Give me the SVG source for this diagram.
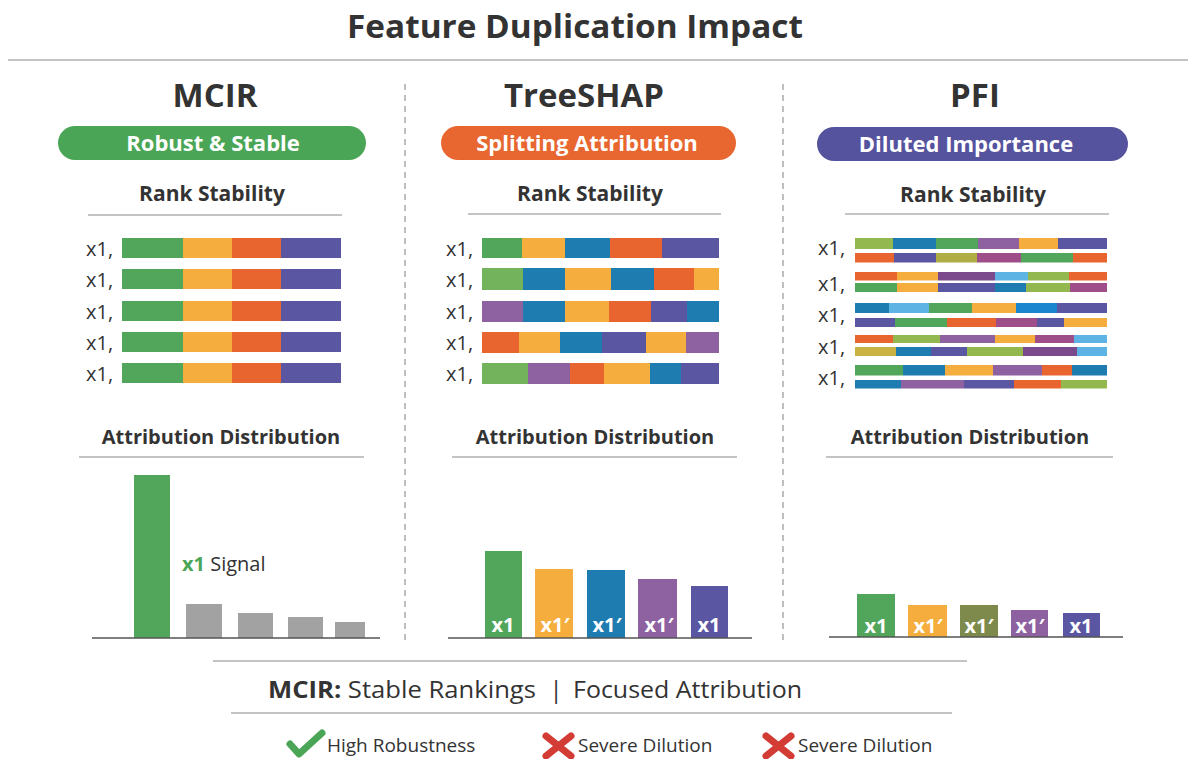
<svg xmlns="http://www.w3.org/2000/svg" width="1188" height="759" viewBox="0 0 1188 759">
<style>
text{font-family:"Open Sans","Liberation Sans",sans-serif;fill:#333}
.title{font-size:32px;font-weight:700}
.col{font-size:33px;font-weight:700}
.pill{font-size:22px;font-weight:700;fill:#fff}
.sub{font-size:21px;font-weight:700}
.sub2{font-size:20px;font-weight:700}
.lbl{font-size:20px}
.bl{font-size:20px;font-weight:700;fill:#fff;text-anchor:middle}
.rule{stroke:#c4c4c4;stroke-width:2}
.axis{stroke:#555;stroke-width:1.5}
.div{stroke:#aaa;stroke-width:1.5;stroke-dasharray:6 5}
.G{fill:#52a65b}.O{fill:#f5ae3d}.R{fill:#e8652f}.I{fill:#5a56a1}.B{fill:#1f7cb0}.V{fill:#8e62a0}.LG{fill:#72b35c}
.YG{fill:#93b84f}.LB{fill:#5cb3e4}.PL{fill:#9e4f8a}.OL{fill:#b0ad44}.DV{fill:#7a4a8c}.MU{fill:#c9b243}.BB{fill:#1a86cf}.GR{fill:#a2a2a2}
.foot{font-size:24px}
.small{font-size:19px}
</style>

<g id="header">
<text class="title" x="575" y="38" text-anchor="middle" textLength="456" lengthAdjust="spacingAndGlyphs">Feature Duplication Impact</text>
<line class="rule" x1="8" y1="60" x2="1188" y2="60" stroke-width="2.5"/>
</g>

<g id="dividers">
<line class="div" x1="405" y1="84" x2="405" y2="640"/>
<line class="div" x1="783" y1="84" x2="783" y2="640"/>
</g>

<g id="mcir">
<text class="col" x="215" y="107" text-anchor="middle">MCIR</text>
<rect x="58" y="126" width="308" height="34" rx="17" fill="#4aa656"/>
<text class="pill" x="213" y="151" text-anchor="middle">Robust &amp; Stable</text>
<text class="sub" x="212" y="201" text-anchor="middle">Rank Stability</text>
<line class="rule" x1="88" y1="215" x2="342" y2="215"/>
<g id="mcir-rows">
<text class="lbl" x="86" y="256">x1,</text>
<text class="lbl" x="86" y="287">x1,</text>
<text class="lbl" x="86" y="319">x1,</text>
<text class="lbl" x="86" y="350">x1,</text>
<text class="lbl" x="86" y="381">x1,</text>
<g id="r1"><rect class="G" x="122" y="238" width="61" height="20"/><rect class="O" x="183" y="238" width="49" height="20"/><rect class="R" x="232" y="238" width="49" height="20"/><rect class="I" x="281" y="238" width="60" height="20"/></g>
<g id="r2"><rect class="G" x="122" y="269" width="61" height="20"/><rect class="O" x="183" y="269" width="49" height="20"/><rect class="R" x="232" y="269" width="49" height="20"/><rect class="I" x="281" y="269" width="60" height="20"/></g>
<g id="r3"><rect class="G" x="122" y="301" width="61" height="20"/><rect class="O" x="183" y="301" width="49" height="20"/><rect class="R" x="232" y="301" width="49" height="20"/><rect class="I" x="281" y="301" width="60" height="20"/></g>
<g id="r4"><rect class="G" x="122" y="332" width="61" height="20"/><rect class="O" x="183" y="332" width="49" height="20"/><rect class="R" x="232" y="332" width="49" height="20"/><rect class="I" x="281" y="332" width="60" height="20"/></g>
<g id="r5"><rect class="G" x="122" y="363" width="61" height="20"/><rect class="O" x="183" y="363" width="49" height="20"/><rect class="R" x="232" y="363" width="49" height="20"/><rect class="I" x="281" y="363" width="60" height="20"/></g>
</g>
<text class="sub2" x="221" y="444" text-anchor="middle">Attribution Distribution</text>
<line class="rule" x1="79" y1="457" x2="364" y2="457"/>
<g id="mcir-chart">
<rect class="G" x="134" y="475" width="36" height="163"/>
<rect class="GR" x="186" y="604" width="36" height="34"/>
<rect class="GR" x="238" y="613" width="35" height="25"/>
<rect class="GR" x="288" y="617" width="35" height="21"/>
<rect class="GR" x="335" y="622" width="30" height="16"/>
<line class="axis" x1="92" y1="638" x2="380" y2="638"/>
<text class="lbl" x="182" y="571"><tspan font-weight="700" fill="#4aa656">x1</tspan> Signal</text>
</g>
</g>

<g id="treeshap">
<text class="col" x="584" y="107" text-anchor="middle">TreeSHAP</text>
<rect x="441" y="126" width="295" height="34" rx="17" fill="#e8662f"/>
<text class="pill" x="587" y="151" text-anchor="middle">Splitting Attribution</text>
<text class="sub" x="590" y="201" text-anchor="middle">Rank Stability</text>
<line class="rule" x1="468" y1="214" x2="721" y2="214"/>
<g id="ts-rows">
<text class="lbl" x="446" y="256">x1,</text>
<text class="lbl" x="446" y="287">x1,</text>
<text class="lbl" x="446" y="319">x1,</text>
<text class="lbl" x="446" y="350">x1,</text>
<text class="lbl" x="446" y="381">x1,</text>
<g id="t1"><rect class="G" x="482" y="238" width="40" height="20"/><rect class="O" x="522" y="238" width="43" height="20"/><rect class="B" x="565" y="238" width="45" height="20"/><rect class="R" x="610" y="238" width="52" height="20"/><rect class="I" x="662" y="238" width="57" height="20"/></g>
<g id="t2"><rect class="LG" x="482" y="268" width="41" height="22"/><rect class="B" x="523" y="268" width="42" height="22"/><rect class="O" x="565" y="268" width="46" height="22"/><rect class="B" x="611" y="268" width="43" height="22"/><rect class="R" x="654" y="268" width="40" height="22"/><rect class="O" x="694" y="268" width="25" height="22"/></g>
<g id="t3"><rect class="V" x="482" y="301" width="41" height="21"/><rect class="B" x="523" y="301" width="42" height="21"/><rect class="O" x="565" y="301" width="44" height="21"/><rect class="R" x="609" y="301" width="42" height="21"/><rect class="I" x="651" y="301" width="36" height="21"/><rect class="B" x="687" y="301" width="32" height="21"/></g>
<g id="t4"><rect class="R" x="482" y="332" width="37" height="21"/><rect class="O" x="519" y="332" width="41" height="21"/><rect class="B" x="560" y="332" width="42" height="21"/><rect class="I" x="602" y="332" width="44" height="21"/><rect class="O" x="646" y="332" width="40" height="21"/><rect class="V" x="686" y="332" width="33" height="21"/></g>
<g id="t5"><rect class="LG" x="482" y="363" width="46" height="21"/><rect class="V" x="528" y="363" width="42" height="21"/><rect class="R" x="570" y="363" width="34" height="21"/><rect class="O" x="604" y="363" width="46" height="21"/><rect class="B" x="650" y="363" width="31" height="21"/><rect class="I" x="681" y="363" width="38" height="21"/></g>
</g>
<text class="sub2" x="595" y="444" text-anchor="middle">Attribution Distribution</text>
<line class="rule" x1="452" y1="457" x2="737" y2="457"/>
<g id="ts-chart">
<rect class="G" x="485" y="551" width="37" height="87"/>
<rect class="O" x="535" y="569" width="38" height="69"/>
<rect class="B" x="587" y="570" width="38" height="68"/>
<rect class="V" x="638" y="579" width="39" height="59"/>
<rect class="I" x="691" y="586" width="37" height="52"/>
<line class="axis" x1="448" y1="638" x2="752" y2="638"/>
<text class="bl" x="503" y="632">x1</text>
<text class="bl" x="555" y="632">x1′</text>
<text class="bl" x="607" y="632">x1′</text>
<text class="bl" x="659" y="632">x1′</text>
<text class="bl" x="709" y="632">x1</text>
</g>
</g>

<g id="pfi">
<text class="col" x="975" y="107" text-anchor="middle">PFI</text>
<rect x="817" y="127" width="311" height="34" rx="17" fill="#55529e"/>
<text class="pill" x="966" y="152" text-anchor="middle">Diluted Importance</text>
<text class="sub" x="973" y="202" text-anchor="middle">Rank Stability</text>
<line class="rule" x1="845" y1="214" x2="1109" y2="214"/>
<g id="pfi-rows">
<text class="lbl" x="818" y="255">x1,</text>
<text class="lbl" x="818" y="291">x1,</text>
<text class="lbl" x="818" y="322">x1,</text>
<text class="lbl" x="818" y="354">x1,</text>
<text class="lbl" x="818" y="385">x1,</text>
<g id="p1a"><rect class="YG" x="855" y="238" width="38" height="11"/><rect class="B" x="893" y="238" width="43" height="11"/><rect class="G" x="936" y="238" width="42" height="11"/><rect class="V" x="978" y="238" width="41" height="11"/><rect class="O" x="1019" y="238" width="39" height="11"/><rect class="I" x="1058" y="238" width="49" height="11"/></g>
<g id="p1b"><rect class="R" x="855" y="253" width="39" height="9.5"/><rect class="I" x="894" y="253" width="42" height="9.5"/><rect class="OL" x="936" y="253" width="41" height="9.5"/><rect class="PL" x="977" y="253" width="44" height="9.5"/><rect class="G" x="1021" y="253" width="52" height="9.5"/><rect class="R" x="1073" y="253" width="34" height="9.5"/></g>
<g id="p2a"><rect class="R" x="855" y="272" width="42" height="8.5"/><rect class="O" x="897" y="272" width="41" height="8.5"/><rect class="DV" x="938" y="272" width="57" height="8.5"/><rect class="LB" x="995" y="272" width="33" height="8.5"/><rect class="YG" x="1028" y="272" width="41" height="8.5"/><rect class="R" x="1069" y="272" width="38" height="8.5"/></g>
<g id="p2b"><rect class="G" x="855" y="283" width="42" height="9"/><rect class="O" x="897" y="283" width="41" height="9"/><rect class="I" x="938" y="283" width="57" height="9"/><rect class="B" x="995" y="283" width="31" height="9"/><rect class="YG" x="1026" y="283" width="44" height="9"/><rect class="PL" x="1070" y="283" width="37" height="9"/></g>
<g id="p3a"><rect class="B" x="855" y="303" width="34" height="10"/><rect class="LB" x="889" y="303" width="40" height="10"/><rect class="G" x="929" y="303" width="43" height="10"/><rect class="O" x="972" y="303" width="44" height="10"/><rect class="BB" x="1016" y="303" width="41" height="10"/><rect class="I" x="1057" y="303" width="50" height="10"/></g>
<g id="p3b"><rect class="I" x="855" y="318" width="40" height="9"/><rect class="G" x="895" y="318" width="52" height="9"/><rect class="R" x="947" y="318" width="49" height="9"/><rect class="PL" x="996" y="318" width="41" height="9"/><rect class="I" x="1037" y="318" width="27" height="9"/><rect class="O" x="1064" y="318" width="43" height="9"/></g>
<g id="p4a"><rect class="R" x="855" y="335" width="38" height="8"/><rect class="YG" x="893" y="335" width="47" height="8"/><rect class="V" x="940" y="335" width="55" height="8"/><rect class="O" x="995" y="335" width="40" height="8"/><rect class="PL" x="1035" y="335" width="39" height="8"/><rect class="LB" x="1074" y="335" width="33" height="8"/></g>
<g id="p4b"><rect class="MU" x="855" y="347" width="41" height="9"/><rect class="B" x="896" y="347" width="35" height="9"/><rect class="I" x="931" y="347" width="36" height="9"/><rect class="YG" x="967" y="347" width="56" height="9"/><rect class="DV" x="1023" y="347" width="54" height="9"/><rect class="LB" x="1077" y="347" width="30" height="9"/></g>
<g id="p5a"><rect class="G" x="855" y="365" width="48" height="10.5"/><rect class="B" x="903" y="365" width="42" height="10.5"/><rect class="O" x="945" y="365" width="48" height="10.5"/><rect class="V" x="993" y="365" width="49" height="10.5"/><rect class="R" x="1042" y="365" width="30" height="10.5"/><rect class="B" x="1072" y="365" width="35" height="10.5"/></g>
<g id="p5b"><rect class="B" x="855" y="380" width="46" height="8.5"/><rect class="V" x="901" y="380" width="63" height="8.5"/><rect class="I" x="964" y="380" width="50" height="8.5"/><rect class="R" x="1014" y="380" width="47" height="8.5"/><rect class="YG" x="1061" y="380" width="46" height="8.5"/></g>
</g>
<text class="sub2" x="970" y="444" text-anchor="middle">Attribution Distribution</text>
<line class="rule" x1="826" y1="457" x2="1113" y2="457"/>
<g id="pfi-chart">
<rect class="G" x="857" y="594" width="38" height="43"/>
<rect class="O" x="908" y="605" width="39" height="32"/>
<rect x="960" y="605" width="38" height="32" fill="#7e8a4c"/>
<rect class="V" x="1011" y="610" width="37" height="27"/>
<rect class="I" x="1063" y="613" width="37" height="24"/>
<line class="axis" x1="829" y1="637" x2="1123" y2="637"/>
<text class="bl" x="876" y="633">x1</text>
<text class="bl" x="928" y="633">x1′</text>
<text class="bl" x="979" y="633">x1′</text>
<text class="bl" x="1030" y="633">x1′</text>
<text class="bl" x="1081" y="633">x1</text>
</g>
</g>

<g id="footer">
<line class="rule" x1="213" y1="661" x2="967" y2="661"/>
<text class="foot" x="268" y="698" textLength="268" lengthAdjust="spacingAndGlyphs"><tspan font-weight="700">MCIR:</tspan> Stable Rankings</text>
<text class="foot" x="556" y="698" text-anchor="middle">|</text>
<text class="foot" x="573" y="698" textLength="229" lengthAdjust="spacingAndGlyphs">Focused Attribution</text>
<line class="rule" x1="231" y1="713" x2="952" y2="713"/>
<g id="ok">
<polyline points="290,744 299,754 322,733" fill="none" stroke="#4aa656" stroke-width="7" stroke-linecap="round" stroke-linejoin="round"/>
<text class="small" x="327" y="752">High Robustness</text>
</g>
<g id="bad1">
<path d="M546,736 L571,756 M571,736 L546,756" stroke="#d33b35" stroke-width="7" stroke-linecap="round"/>
<text class="small" x="578" y="752">Severe Dilution</text>
</g>
<g id="bad2">
<path d="M766,736 L791,756 M791,736 L766,756" stroke="#d33b35" stroke-width="7" stroke-linecap="round"/>
<text class="small" x="798" y="752">Severe Dilution</text>
</g>
</g>
</svg>
